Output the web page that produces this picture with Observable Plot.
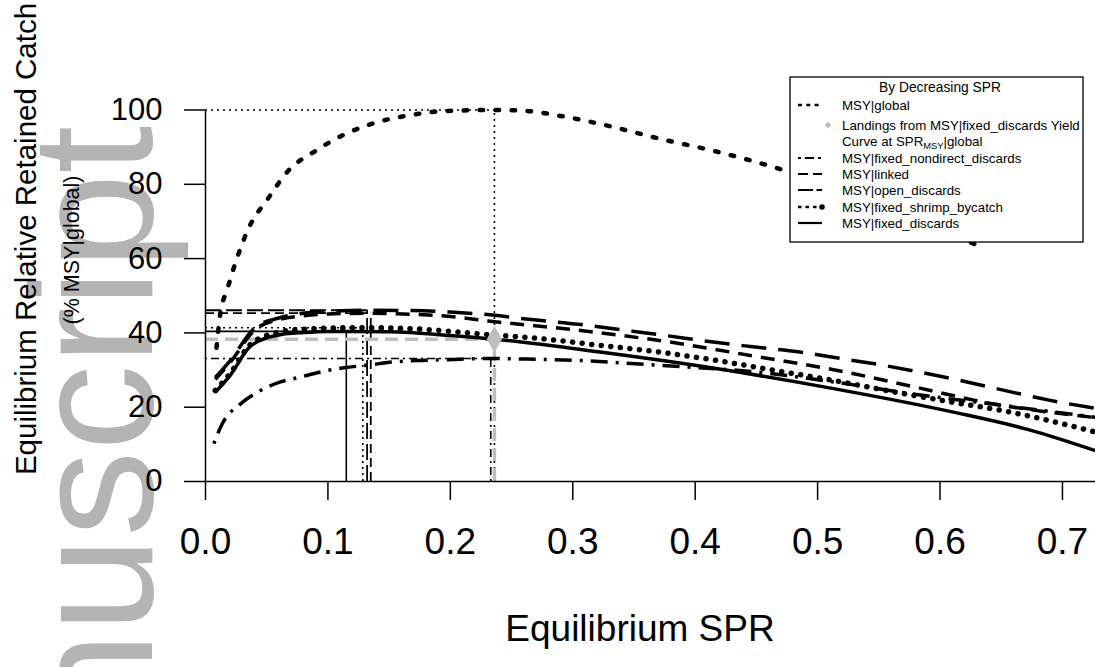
<!DOCTYPE html>
<html>
<head>
<meta charset="utf-8">
<script src="https://cdn.jsdelivr.net/npm/d3@7"></script>
<script src="https://cdn.jsdelivr.net/npm/@observablehq/plot@0.6"></script>
<style>
  html, body { margin: 0; padding: 0; background: white; }
  #wrap { position: relative; width: 1095px; height: 667px; overflow: hidden; font-family: "Liberation Sans", Arial, sans-serif; }
  #wrap > svg, #wrap > div { position: absolute; left: 0; top: 0; }
</style>
</head>
<body>
<div id="wrap"></div>
<script>
// ---------------- data ----------------
const xTicks = [0, 0.1, 0.2, 0.3, 0.4, 0.5, 0.6, 0.7];
const yTicks = [0, 20, 40, 60, 80, 100];

const globalX = [0.009, 0.012, 0.0177, 0.0253, 0.0354, 0.051, 0.0675, 0.0899, 0.114, 0.14, 0.167, 0.195, 0.236, 0.26, 0.29, 0.323, 0.372, 0.42, 0.478, 0.53, 0.58, 0.62, 0.635];
const globalY = [36, 45, 51.6, 59.7, 68.3, 76.1, 83.6, 89, 93.5, 96.7, 98.6, 99.7, 100, 99.8, 98.4, 96.2, 92.2, 88.6, 83.2, 77, 70.5, 65, 63];

const nondirectX = [0.0068, 0.0136, 0.0286, 0.0449, 0.0613, 0.0776, 0.094, 0.113, 0.132, 0.154, 0.1757, 0.1975, 0.233, 0.2525, 0.3043, 0.369, 0.449, 0.513, 0.577, 0.641, 0.727];
const nondirectY = [10.2, 15.5, 20.9, 24.5, 26.8, 28.1, 29.5, 30.6, 31.3, 32.2, 32.6, 32.8, 33.1, 33.0, 32.6, 31.3, 29.5, 26.8, 23.6, 20.9, 17.3];

const linkedX = [0.008, 0.02, 0.041, 0.06, 0.08, 0.1, 0.135, 0.17, 0.2, 0.231, 0.305, 0.378, 0.449, 0.513, 0.577, 0.64, 0.727];
const linkedY = [27.5, 32, 41, 43.6, 44.6, 45.1, 45.3, 45.0, 44.4, 43.2, 40.7, 37.6, 33.7, 30.1, 25.6, 21.1, 17.2];

const openX = [0.008, 0.02, 0.041, 0.06, 0.08, 0.1, 0.132, 0.17, 0.2, 0.228, 0.266, 0.305, 0.343, 0.378, 0.413, 0.449, 0.484, 0.519, 0.555, 0.587, 0.622, 0.657, 0.689, 0.727];
const openY = [28, 32.5, 41.6, 44, 45.3, 45.8, 46.1, 46.0, 45.6, 45.0, 43.6, 42.3, 40.7, 39.2, 37.6, 36.2, 34.9, 33.1, 31.2, 29.2, 26.8, 24.2, 21.9, 19.7];

const shrimpX = [0.008, 0.02, 0.037, 0.061, 0.08, 0.1285, 0.17, 0.2295, 0.2727, 0.3207, 0.369, 0.417, 0.465, 0.513, 0.561, 0.609, 0.657, 0.689, 0.727];
const shrimpY = [24.5, 29, 37, 40.3, 41, 41.4, 41.1, 39.6, 38.5, 36.7, 34.9, 32.6, 29.9, 27.2, 24.2, 21.4, 18.7, 16.4, 13.3];

const fixedX = [0.008, 0.02, 0.037, 0.061, 0.08, 0.1, 0.115, 0.15, 0.2, 0.236, 0.3207, 0.417, 0.513, 0.609, 0.673, 0.727];
const fixedY = [24, 28.5, 36.5, 39.5, 40.1, 40.4, 40.4, 40.3, 39.3, 38.3, 34.9, 30.4, 25.0, 18.8, 13.9, 8.3];

// MSY reference points, in legend order (by decreasing SPR)
const msyNames = ["global", "nondirect", "linked", "open", "shrimp", "fixed"];
const msySPR = [0.236, 0.233, 0.135, 0.132, 0.1285, 0.115];
const msyValue = [100, 33.1, 45.3, 46.1, 41.4, 40.4];

// Landings from fixed_discards curve at SPR_MSY|global
const landingsSPR = [0.236];
const landingsValue = [38.3];

const legendTitle = "By Decreasing SPR";
const legendLabels = ["MSY|global", "Landings from MSY|fixed_discards Yield", "Curve at SPR", "MSY|fixed_nondirect_discards", "MSY|linked", "MSY|open_discards", "MSY|fixed_shrimp_bycatch", "MSY|fixed_discards"];

// ---------------- styles ----------------
const curveStyle = {
  global:    {strokeWidth: 4.5, strokeDasharray: "3.5,12.5", strokeLinecap: "round"},
  nondirect: {strokeWidth: 3.5, strokeDasharray: "3,8,17,8", strokeLinecap: "butt"},
  linked:    {strokeWidth: 3.5, strokeDasharray: "14,9", strokeLinecap: "butt"},
  open:      {strokeWidth: 3.5, strokeDasharray: "25,12", strokeLinecap: "butt"},
  shrimp:    {strokeWidth: 5.5, strokeDasharray: "0.1,9.5", strokeLinecap: "round"},
  fixed:     {strokeWidth: 3.5, strokeDasharray: null, strokeLinecap: "butt"}
};
const refStyle = {
  global:    {strokeWidth: 1.6, strokeDasharray: "2,4"},
  nondirect: {strokeWidth: 1.6, strokeDasharray: "2,4,8,4"},
  linked:    {strokeWidth: 1.8, strokeDasharray: "9,5"},
  open:      {strokeWidth: 1.8, strokeDasharray: "16,5"},
  shrimp:    {strokeWidth: 1.6, strokeDasharray: "2,4"},
  fixed:     {strokeWidth: 1.6, strokeDasharray: null}
};

const series = {
  global: [globalX, globalY], nondirect: [nondirectX, nondirectY], linked: [linkedX, linkedY],
  open: [openX, openY], shrimp: [shrimpX, shrimpY], fixed: [fixedX, fixedY]
};

const FONT = "Liberation Sans, Arial, sans-serif";
const W = 1095, H = 667;
const wrap = document.getElementById("wrap");

// ---------------- watermark (behind) ----------------
const wm = d3.create("svg").attr("width", W).attr("height", H);
wm.append("text")
  .attr("transform", "translate(152,967) rotate(-90)")
  .attr("font-family", FONT).attr("font-size", 172).attr("fill", "#b4b4b4")
  .text("Manuscript");
wrap.appendChild(wm.node());

// ---------------- chart ----------------
const marks = [];
// reference lines
msyNames.forEach((name, i) => {
  const st = refStyle[name];
  const d = [{spr: msySPR[i], v: msyValue[i]}];
  marks.push(Plot.ruleY(d, {y: "v", x1: () => 0, x2: "spr", stroke: "black", ...st}));
  marks.push(Plot.ruleX(d, {x: "spr", y1: () => 0, y2: "v", stroke: "black", ...st}));
});
// landings gray
const land = landingsSPR.map((s, i) => ({spr: s, v: landingsValue[i]}));
marks.push(Plot.ruleY(land, {y: "v", x1: () => 0, x2: "spr", stroke: "#bebebe", strokeWidth: 3.5, strokeDasharray: "13,7"}));
marks.push(Plot.ruleX(land, {x: "spr", y1: () => 0, y2: "v", stroke: "#bebebe", strokeWidth: 3.5, strokeDasharray: "13,7"}));
// curves
Object.entries(series).forEach(([name, [xs, ys]]) => {
  const d = xs.map((x, i) => ({x, y: ys[i]}));
  const st = curveStyle[name];
  const opts = {x: "x", y: "y", stroke: "black", curve: "monotone-x", strokeWidth: st.strokeWidth, strokeLinecap: st.strokeLinecap};
  if (st.strokeDasharray) opts.strokeDasharray = st.strokeDasharray;
  marks.push(Plot.line(d, opts));
});
marks.push(Plot.dot(land, {x: "spr", y: "v", symbol: "diamond", r: 8, fill: "#bebebe", stroke: null}));
// axes
marks.push(Plot.ruleY([0], {x1: () => 0, x2: () => 0.727, stroke: "black", strokeWidth: 1.5}));
marks.push(Plot.ruleX([0], {y1: () => 0, y2: () => 100, stroke: "black", strokeWidth: 1.5}));
marks.push(Plot.axisX({ticks: xTicks, tickSize: 19, tickPadding: 27, tickFormat: d => d.toFixed(1), fontSize: 37, label: null, strokeWidth: 1.5}));
marks.push(Plot.axisY({ticks: yTicks, tickSize: 21, tickPadding: 22, tickFormat: d => String(d), fontSize: 31, label: null, strokeWidth: 1.5}));

const chart = Plot.plot({
  width: W, height: H,
  marginLeft: 205, marginRight: 0, marginTop: 109.5, marginBottom: 186,
  x: {domain: [0, 0.727]},
  y: {domain: [0, 100]},
  style: {background: "transparent", fontFamily: FONT, color: "black", overflow: "visible"},
  marks
});
wrap.appendChild(chart);

// ---------------- titles + legend overlay ----------------
const ov = d3.create("svg").attr("width", W).attr("height", H).attr("font-family", FONT);
ov.append("text").attr("transform", "translate(36,239) rotate(-90)").attr("text-anchor", "middle")
  .attr("font-size", 29.5).text("Equilibrium Relative Retained Catch");
ov.append("text").attr("transform", "translate(79,250) rotate(-90)").attr("text-anchor", "middle")
  .attr("font-size", 21.5).text("(% MSY|global)");
ov.append("text").attr("x", 640).attr("y", 641).attr("text-anchor", "middle")
  .attr("font-size", 37).text("Equilibrium SPR");

// legend
const lg = ov.append("g");
lg.append("rect").attr("x", 790).attr("y", 77).attr("width", 293).attr("height", 165)
  .attr("fill", "white").attr("stroke", "black").attr("stroke-width", 1.3);
const LF = 13.3;
lg.append("text").attr("x", 940).attr("y", 91.7).attr("text-anchor", "middle").attr("font-size", 13.8).text(legendTitle);
const rowY = [105, 125, 141, 158, 174, 190, 207, 223];
const legStyle = [
  {dash: "4,4.3", w: 2.4},
  null, null,
  {dash: "3,4,9,4", w: 2.2},
  {dash: "10,5", w: 2.2},
  {dash: "15,3.5,6,100", w: 2.2},
  {dash: "3.5,4", w: 2.4, end: 19},
  {dash: null, w: 2.2}
];
legendLabels.forEach((lab, i) => {
  const y = rowY[i];
  const t = lg.append("text").attr("x", 842).attr("y", y + 4.7).attr("font-size", LF);
  if (i === 2) {
    t.append("tspan").text(lab);
    t.append("tspan").attr("font-size", LF * 0.7).attr("dy", 3).text("MSY");
    t.append("tspan").attr("dy", -3).text("|global");
  } else {
    t.text(lab);
  }
  const st = legStyle[i];
  if (st) {
    const l = lg.append("line").attr("x1", 798).attr("x2", 798 + (st.end || 24)).attr("y1", y).attr("y2", y)
      .attr("stroke", "black").attr("stroke-width", st.w);
    if (st.dash) l.attr("stroke-dasharray", st.dash);
  }
  if (i === 6) lg.append("circle").attr("cx", 822).attr("cy", y).attr("r", 2.8).attr("fill", "black");
  if (i === 1) lg.append("path").attr("d", d3.symbol(d3.symbolDiamond2, 30)()).attr("transform", `translate(828,${y})`).attr("fill", "#bebebe");
});
wrap.appendChild(ov.node());
</script>
</body>
</html>
